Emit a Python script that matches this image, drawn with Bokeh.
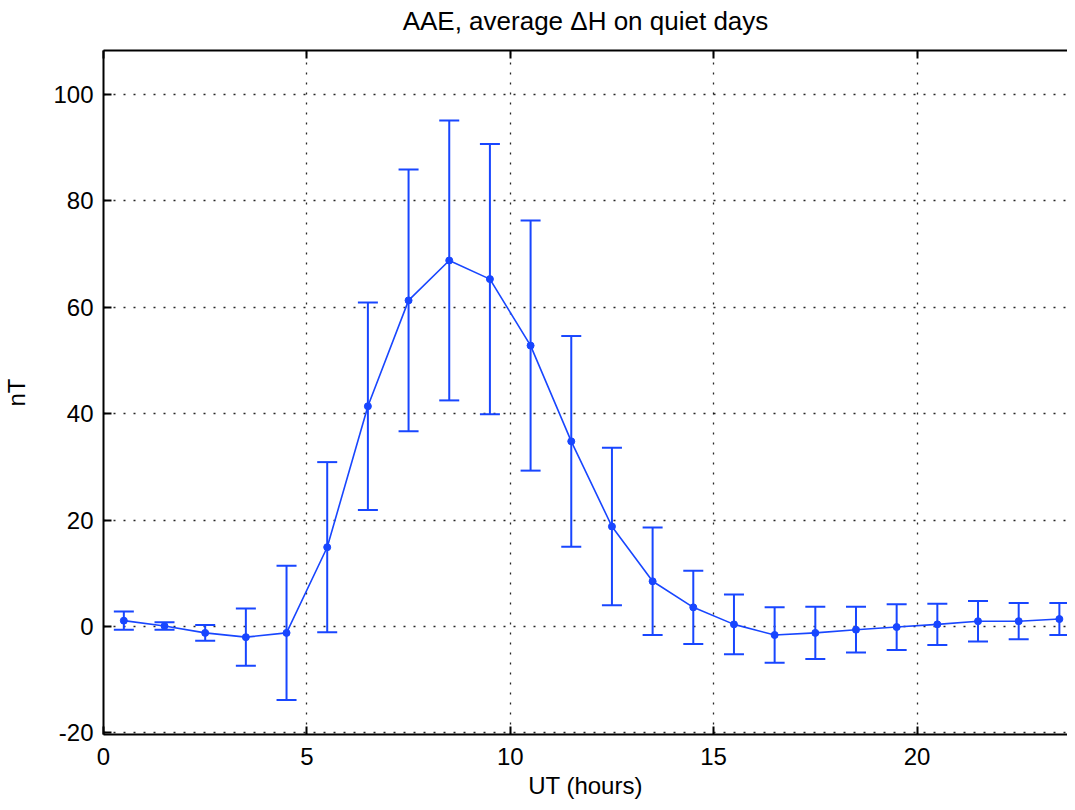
from bokeh.plotting import figure
from bokeh.models import Whisker, TeeHead, ColumnDataSource, FixedTicker, Range1d, LinearAxis
from bokeh.embed import file_html
from bokeh.resources import INLINE

# ---- data ----
ut_hours = [0.5, 1.5, 2.5, 3.5, 4.5, 5.5, 6.5, 7.5, 8.5, 9.5, 10.5, 11.5,
            12.5, 13.5, 14.5, 15.5, 16.5, 17.5, 18.5, 19.5, 20.5, 21.5, 22.5, 23.5]
mean_dh = [1.1, 0.1, -1.2, -2.0, -1.2, 14.9, 41.4, 61.3, 68.8, 65.3, 52.8, 34.8,
           18.8, 8.5, 3.6, 0.4, -1.6, -1.2, -0.6, -0.1, 0.4, 1.0, 1.0, 1.4]
err_dh = [1.7, 0.7, 1.5, 5.4, 12.6, 16.0, 19.5, 24.6, 26.3, 25.4, 23.5, 19.8,
          14.8, 10.1, 6.9, 5.6, 5.2, 4.9, 4.3, 4.3, 3.9, 3.8, 3.4, 3.0]
x_ticks = [0, 5, 10, 15, 20]
y_ticks = [-20, 0, 20, 40, 60, 80, 100]
y_tick_labels = ["-20", "0", "20", "40", "60", "80", "100"]
title_text = "AAE, average \u0394H on quiet days"

BLUE = "#1846ff"
FONT = "Liberation Sans"

src = ColumnDataSource(dict(
    x=ut_hours, y=mean_dh,
    upper=[m + e for m, e in zip(mean_dh, err_dh)],
    lower=[m - e for m, e in zip(mean_dh, err_dh)],
))

X0, X1 = 0, 23.7
Y0, Y_TOP = -20.3, 108.27
p = figure(width=1067, height=806, output_backend="svg", toolbar_location=None,
           x_range=Range1d(X0, X1), y_range=Range1d(Y0, Y_TOP),
           min_border_left=98, min_border_right=0, min_border_top=50, min_border_bottom=72)
p.outline_line_color = None
p.background_fill_color = "white"
p.border_fill_color = "white"

# grids
for g in (p.xgrid, p.ygrid):
    g.grid_line_color = "black"
    g.grid_line_dash = "2 8"
    g.grid_line_width = 1.3
    g.grid_line_alpha = 0.85
p.xgrid.ticker = FixedTicker(ticks=x_ticks)
p.ygrid.ticker = FixedTicker(ticks=y_ticks)

def style_axis(ax):
    ax.axis_line_color = "black"
    ax.axis_line_width = 2
    ax.major_tick_line_color = "black"
    ax.major_tick_line_width = 2
    ax.major_tick_in = 8
    ax.major_tick_out = 0
    ax.minor_tick_line_color = None
    ax.major_label_text_font = FONT
    ax.major_label_text_font_size = "24px"
    ax.major_label_text_color = "black"
    ax.axis_label_text_font = FONT
    ax.axis_label_text_font_size = "24px"
    ax.axis_label_text_font_style = "normal"
    ax.axis_label_text_color = "black"

style_axis(p.xaxis[0])
style_axis(p.yaxis[0])
p.xaxis.ticker = FixedTicker(ticks=x_ticks)
p.yaxis.ticker = FixedTicker(ticks=y_ticks)
p.yaxis.major_label_overrides = dict(zip(y_ticks, y_tick_labels))
p.xaxis.axis_label = "UT (hours)"
p.yaxis.axis_label = "nT"
p.xaxis.major_label_standoff = 13
p.yaxis.major_label_standoff = 10
p.xaxis.axis_label_standoff = 4
p.yaxis.axis_label_standoff = 20

# top frame edge with inward tick marks (minor ticks carry no labels); title as its label
top_axis = LinearAxis(ticker=FixedTicker(ticks=[], minor_ticks=x_ticks))
style_axis(top_axis)
top_axis.minor_tick_line_color = "black"
top_axis.minor_tick_line_width = 2
top_axis.minor_tick_in = 8
top_axis.minor_tick_out = 0
top_axis.major_label_standoff = 0
top_axis.axis_label = title_text
top_axis.axis_label_text_font_size = "26px"
top_axis.axis_label_standoff = 15
p.add_layout(top_axis, "above")

# data
p.line("x", "y", source=src, line_color=BLUE, line_width=1.6)
w = Whisker(source=src, base="x", upper="upper", lower="lower",
            line_color=BLUE, line_width=2,
            upper_head=TeeHead(size=20, line_color=BLUE, line_width=2),
            lower_head=TeeHead(size=20, line_color=BLUE, line_width=2))
p.add_layout(w)
p.scatter("x", "y", source=src, size=7, color=BLUE)

open("out.html", "w").write(file_html(p, INLINE))
